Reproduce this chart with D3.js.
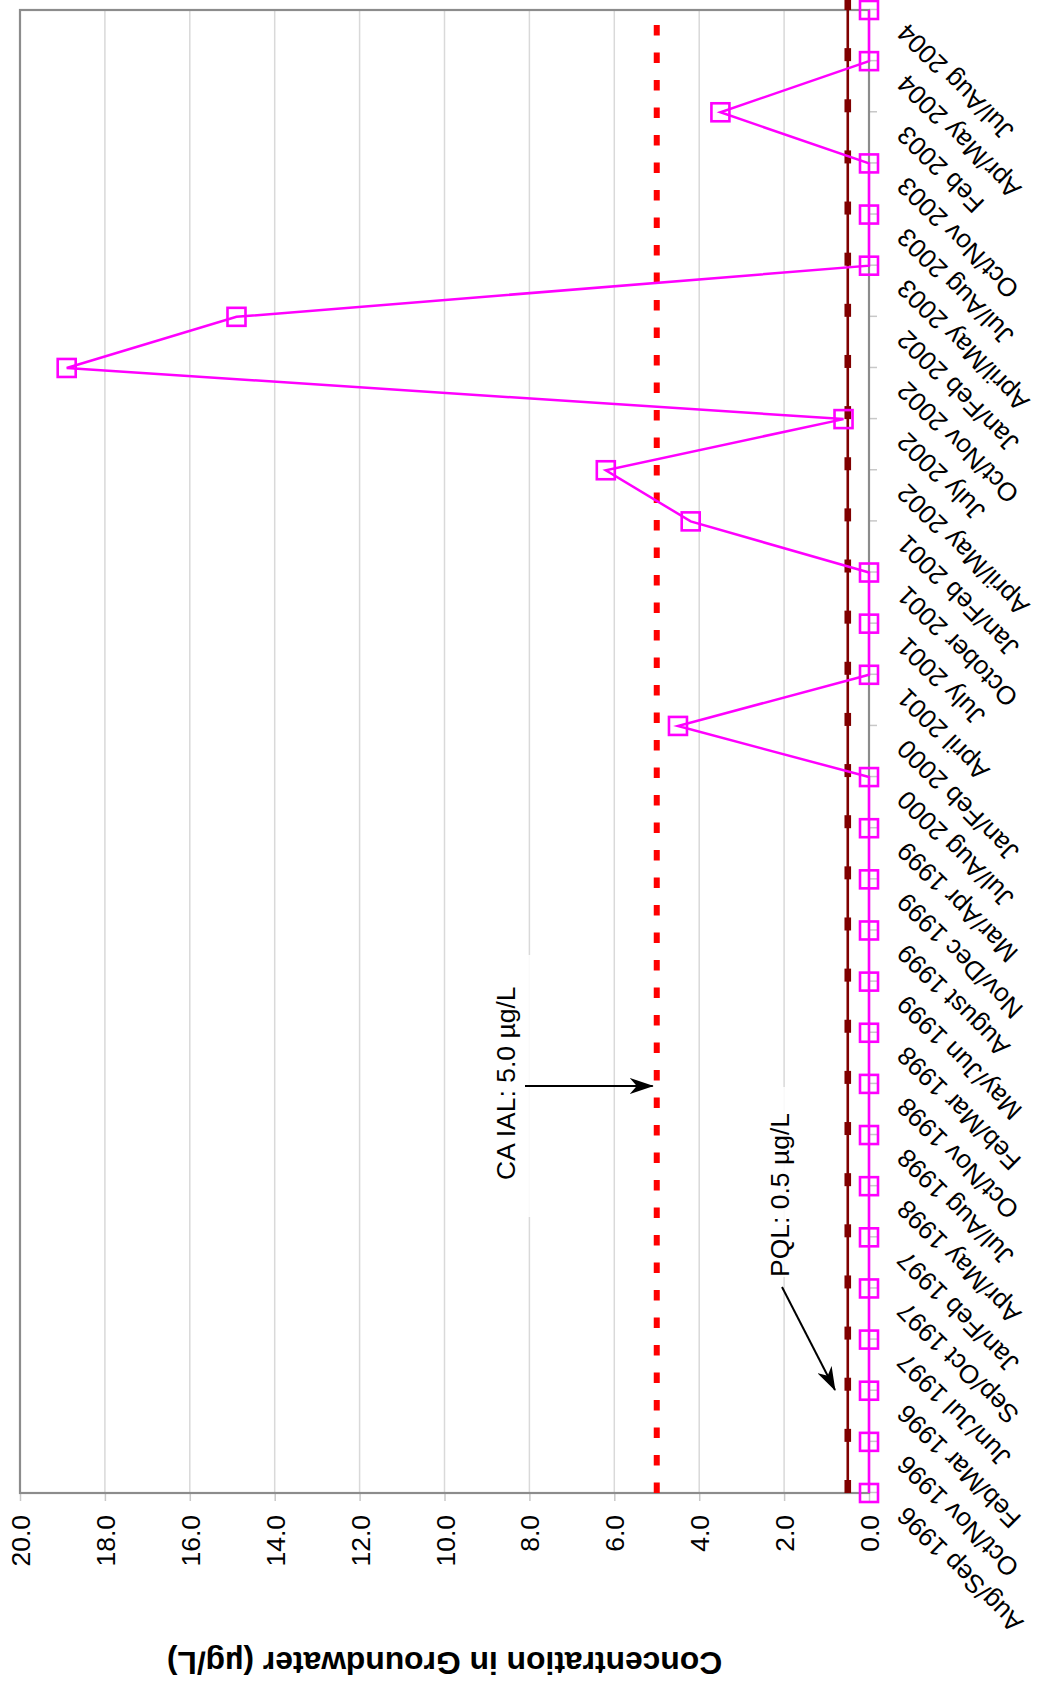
<!DOCTYPE html>
<html>
<head>
<meta charset="utf-8">
<script src="https://cdn.jsdelivr.net/npm/d3@7"></script>
<style>
  html, body { margin: 0; padding: 0; background: #ffffff; }
  svg { display: block; }
  text { font-family: "Liberation Sans", Arial, sans-serif; fill: #000; }
</style>
</head>
<body>
<svg id="chart" width="1037" height="1690"></svg>
<script>
// ---- data ----
const categories = [
  "Aug/Sep 1996", "Oct/Nov 1996", "Feb/Mar 1996", "Jun/Jul 1997", "Sep/Oct 1997",
  "Jan/Feb 1997", "Apr/May 1998", "Jul/Aug 1998", "Oct/Nov 1998", "Feb/Mar 1998",
  "May/Jun 1999", "August 1999", "Nov/Dec 1999", "Mar/Apr 1999", "Jul/Aug 2000",
  "Jan/Feb 2000", "April 2001", "July 2001", "October 2001", "Jan/Feb 2001",
  "April/May 2002", "July 2002", "Oct/Nov 2002", "Jan/Feb 2002", "April/May 2003",
  "Jul/Aug 2003", "Oct/Nov 2003", "Feb 2003", "Apr/May 2004", "Jul/Aug 2004"
];
const concentration = [
  0, 0, 0, 0, 0,
  0, 0, 0, 0, 0,
  0, 0, 0, 0, 0,
  4.5, 0, 0, 0, 4.2,
  6.2, 0.6, 18.9, 14.9, 0,
  0, 0, 3.5, 0, 0
];
const pqlValue = 0.5;
const ialValue = 5.0;
const yTicks = [0, 2, 4, 6, 8, 10, 12, 14, 16, 18, 20];
const yTitle = "Concentration in Groundwater (\u00b5g/L)";
const ialLabel = "CA IAL: 5.0 \u00b5g/L";
const pqlLabel = "PQL: 0.5 \u00b5g/L";

// ---- layout (chart drawn in landscape, then rotated -90deg) ----
const SW = 1037, SH = 1690;          // screen size
const plot = { left: 197, right: 1680, top: 20, bottom: 869 };
const FS = 26.5;

const svg = d3.select("#chart");
const g = svg.append("g").attr("transform", `translate(0,${SH}) rotate(-90)`);

const x = d3.scalePoint().domain(categories).range([plot.left, plot.right]);
const y = d3.scaleLinear().domain([0, 20]).range([plot.bottom, plot.top]);

// defs: arrowhead
const defs = svg.append("defs");
defs.append("marker")
  .attr("id", "arrow")
  .attr("viewBox", "0 0 24 16")
  .attr("refX", 23).attr("refY", 8)
  .attr("markerWidth", 24).attr("markerHeight", 16)
  .attr("markerUnits", "userSpaceOnUse")
  .attr("orient", "auto")
  .append("path")
  .attr("d", "M0,0 L24,8 L0,16 L7,8 Z")
  .attr("fill", "#000");

// gridlines
g.append("g").selectAll("line")
  .data(yTicks.filter(t => t > 0 && t < 20))
  .join("line")
  .attr("x1", plot.left).attr("x2", plot.right)
  .attr("y1", d => y(d)).attr("y2", d => y(d))
  .attr("stroke", "#d9d9d9").attr("stroke-width", 1.5);

// value axis (left in landscape)
const yAxis = d3.axisLeft(y).tickValues(yTicks).tickFormat(d3.format(".1f"))
  .tickSize(8).tickPadding(14);
const ya = g.append("g").attr("transform", `translate(${plot.left},0)`).call(yAxis);
ya.select(".domain").remove();
ya.selectAll(".tick line").attr("stroke", "#c8c8c8").attr("stroke-width", 1.5);
ya.selectAll(".tick text")
  .attr("font-size", FS)
  .attr("font-family", "'Liberation Sans', Arial, sans-serif")
  .attr("fill", "#000")
  .attr("dy", "0.36em");

// category axis (bottom in landscape)
const xAxis = d3.axisBottom(x).tickSize(8).tickFormat("");
const xa = g.append("g").attr("transform", `translate(0,${plot.bottom})`).call(xAxis);
xa.select(".domain").remove();
xa.selectAll(".tick line").attr("stroke", "#c8c8c8").attr("stroke-width", 1.5);

g.append("g").selectAll("text")
  .data(categories)
  .join("text")
  .attr("transform", d => `translate(${x(d) - 12},${plot.bottom + 39}) rotate(-45)`)
  .attr("text-anchor", "end")
  .attr("font-size", 26)
  .text(d => d);

// plot frame
g.append("rect")
  .attr("x", plot.left).attr("y", plot.top)
  .attr("width", plot.right - plot.left).attr("height", plot.bottom - plot.top)
  .attr("fill", "none").attr("stroke", "#8c8c8c").attr("stroke-width", 2.2);

// IAL line (red dashed)
g.append("line")
  .attr("x1", plot.left).attr("x2", plot.right)
  .attr("y1", y(ialValue)).attr("y2", y(ialValue))
  .attr("stroke", "#ff0000").attr("stroke-width", 6)
  .attr("stroke-dasharray", "10.5,17");

// PQL series (dark red line with dash markers)
g.append("line")
  .attr("x1", x(categories[0])).attr("x2", x(categories[categories.length - 1]))
  .attr("y1", y(pqlValue)).attr("y2", y(pqlValue))
  .attr("stroke", "#800000").attr("stroke-width", 2.6);
g.append("g").selectAll("rect")
  .data(categories)
  .join("rect")
  .attr("x", d => x(d)).attr("y", y(pqlValue) - 3.3)
  .attr("width", 13).attr("height", 6.6)
  .attr("fill", "#800000");

// concentration series (magenta)
const pts = categories.map((c, i) => [x(c), y(concentration[i])]);
g.append("path")
  .attr("d", d3.line()(pts))
  .attr("fill", "none").attr("stroke", "#ff00ff").attr("stroke-width", 2.5);
g.append("g").selectAll("rect")
  .data(pts)
  .join("rect")
  .attr("x", d => d[0] - 9).attr("y", d => d[1] - 9)
  .attr("width", 18).attr("height", 18)
  .attr("fill", "none").attr("stroke", "#ff00ff").attr("stroke-width", 2.6);

// annotations
g.append("rect")
  .attr("x", 473).attr("y", 490).attr("width", 262).attr("height", 47)
  .attr("fill", "#ffffff").attr("opacity", 0.85);
g.append("text")
  .attr("x", 510).attr("y", 515)
  .attr("font-size", FS)
  .text(ialLabel);
g.append("line")
  .attr("x1", 604).attr("y1", 525)
  .attr("x2", 604).attr("y2", y(ialValue) - 4)
  .attr("stroke", "#000").attr("stroke-width", 2)
  .attr("marker-end", "url(#arrow)");

g.append("rect")
  .attr("x", 413).attr("y", 765).attr("width", 190).attr("height", 43)
  .attr("fill", "#ffffff").attr("opacity", 0.85);
g.append("text")
  .attr("x", 413).attr("y", 789)
  .attr("font-size", FS)
  .text(pqlLabel);
g.append("line")
  .attr("x1", 403).attr("y1", 782)
  .attr("x2", 300).attr("y2", 835)
  .attr("stroke", "#000").attr("stroke-width", 2)
  .attr("marker-end", "url(#arrow)");

// value axis title
g.append("text")
  .attr("transform", `translate(27,${(plot.top + plot.bottom) / 2}) rotate(-90)`)
  .attr("text-anchor", "middle")
  .attr("dominant-baseline", "central")
  .attr("font-size", 31.8)
  .attr("font-weight", "bold")
  .text(yTitle);
</script>
</body>
</html>
